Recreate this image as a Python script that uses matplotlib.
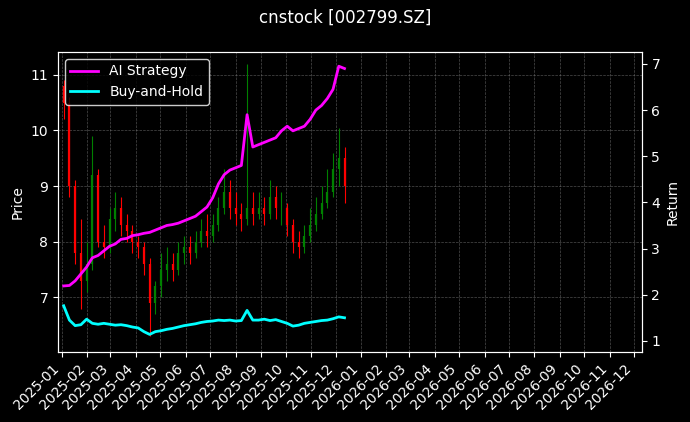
import matplotlib
matplotlib.use("Agg")
import matplotlib.pyplot as plt
import matplotlib.dates as mdates
import numpy as np
import pandas as pd

# weekly bars
dates = pd.date_range("2025-01-03", periods=50, freq="7D")
closes = [10.5, 9.0, 7.8, 7.3, 7.6, 9.2, 8.0, 7.9, 8.4, 8.6, 8.3, 8.2, 8.0, 7.9, 7.6, 6.9,
          7.2, 7.5, 7.6, 7.5, 7.8, 7.9, 7.8, 8.0, 8.2, 8.1, 8.3, 8.6, 8.9, 8.6, 8.5, 8.4,
          8.6, 8.5, 8.6, 8.5, 8.8, 8.6, 8.6, 8.3, 8.0, 7.9, 8.1, 8.3, 8.5, 8.7, 8.9, 9.3, 9.5, 9.0]
opens = [10.8, 10.5, 9.0, 7.8, 7.3, 7.6, 9.2, 8.0, 7.9, 8.4, 8.6, 8.3, 8.2, 8.0, 7.9, 7.6,
         6.9, 7.2, 7.5, 7.6, 7.5, 7.8, 7.9, 7.8, 8.0, 8.2, 8.1, 8.3, 8.6, 8.9, 8.6, 8.5,
         8.4, 8.6, 8.5, 8.6, 8.5, 8.8, 8.6, 8.6, 8.3, 8.0, 7.9, 8.1, 8.3, 8.5, 8.7, 8.9, 9.3, 9.5]
highs = [10.9, 10.6, 9.1, 8.4, 8.0, 9.9, 9.3, 8.3, 8.6, 8.9, 8.8, 8.5, 8.3, 8.1, 8.0, 7.7,
         7.3, 7.8, 7.9, 7.8, 8.0, 8.1, 8.1, 8.2, 8.4, 8.5, 8.5, 8.8, 9.3, 9.1, 8.9, 8.7,
         11.2, 8.9, 8.9, 8.8, 9.1, 9.0, 8.9, 8.7, 8.4, 8.2, 8.3, 8.6, 8.8, 9.0, 9.3, 9.6, 10.05, 9.7]
lows = [10.2, 8.8, 7.6, 6.8, 7.1, 7.5, 7.9, 7.7, 7.8, 8.2, 8.1, 8.0, 7.8, 7.7, 7.4, 6.3,
        6.7, 7.0, 7.3, 7.3, 7.4, 7.6, 7.6, 7.7, 7.9, 7.9, 8.0, 8.2, 8.5, 8.4, 8.3, 8.2,
        8.3, 8.3, 8.4, 8.3, 8.4, 8.4, 8.3, 8.1, 7.8, 7.7, 7.8, 8.0, 8.2, 8.4, 8.6, 8.8, 9.0, 8.7]
ai_ret = [2.19, 2.2, 2.3, 2.45, 2.6, 2.8, 2.85, 2.95, 3.05, 3.1, 3.2, 3.22, 3.28, 3.3, 3.33, 3.35,
          3.4, 3.45, 3.5, 3.52, 3.55, 3.6, 3.65, 3.7, 3.8, 3.9, 4.1, 4.4, 4.6, 4.7, 4.75, 4.8,
          5.9, 5.2, 5.25, 5.3, 5.35, 5.4, 5.55, 5.65, 5.55, 5.6, 5.65, 5.8, 6.0, 6.1, 6.25, 6.45, 6.95, 6.9]
bh_ret = [1.76, 1.45, 1.33, 1.35, 1.47, 1.38, 1.36, 1.38, 1.36, 1.34, 1.35, 1.33, 1.3, 1.28, 1.2, 1.14,
          1.2, 1.22, 1.25, 1.27, 1.3, 1.33, 1.35, 1.37, 1.4, 1.42, 1.43, 1.45, 1.44, 1.45, 1.43, 1.44,
          1.66, 1.45, 1.45, 1.47, 1.44, 1.46, 1.42, 1.38, 1.32, 1.34, 1.38, 1.4, 1.42, 1.44, 1.45, 1.48, 1.52, 1.5]

plt.style.use("dark_background")
fig, ax = plt.subplots(figsize=(6.9, 4.22), dpi=100)
fig.patch.set_facecolor("black")
ax.set_facecolor("black")

colors = ["green" if c >= o else "red" for o, c in zip(opens, closes)]
ax.vlines(dates, lows, highs, colors=colors, linewidth=0.8)
ax.vlines(dates, np.minimum(opens, closes), np.maximum(opens, closes), colors=colors, linewidth=1.6)
ax.set_ylabel("Price")
ax.set_ylim(6.02, 11.41)
ax.grid(True, color="gray", linestyle="--", linewidth=0.5, alpha=0.6)

ax2 = ax.twinx()
ax2.plot(dates, ai_ret, color="magenta", linewidth=2, label="AI Strategy")
ax2.plot(dates, bh_ret, color="cyan", linewidth=2, label="Buy-and-Hold")
ax2.set_ylabel("Return")
ax2.set_ylim(0.76, 7.26)
ax2.legend(loc="upper left", facecolor="black", edgecolor="white")

ax.set_xlim(pd.Timestamp("2024-12-27"), pd.Timestamp("2026-12-10"))
ax.xaxis.set_major_locator(mdates.MonthLocator())
ax.xaxis.set_major_formatter(mdates.DateFormatter("%Y-%m"))
plt.setp(ax.get_xticklabels(), rotation=45, ha="right")

fig.suptitle("cnstock [002799.SZ]", fontsize=12)
fig.subplots_adjust(left=0.084, right=0.930, top=0.877, bottom=0.166)
fig.savefig("out.png", dpi=100, facecolor="black")
